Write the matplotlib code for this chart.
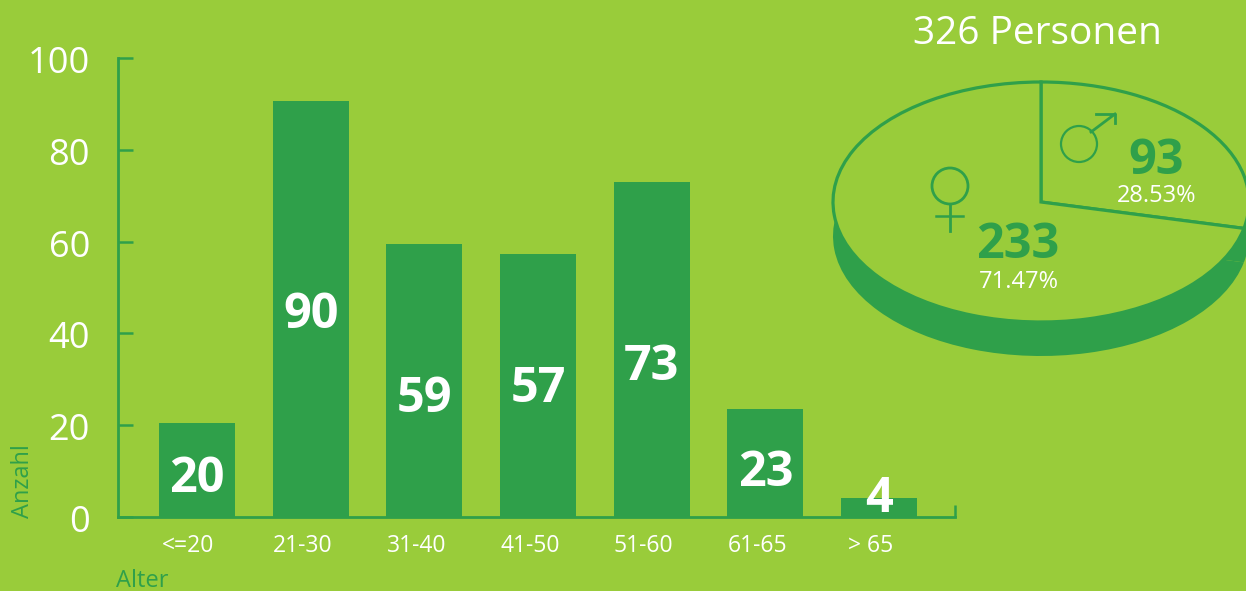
import matplotlib
matplotlib.use("Agg")
import matplotlib.pyplot as plt
from matplotlib.patches import Circle

W, H = 1246, 591
BG = "#99CC3A"
GREEN = "#2FA04A"

age_groups = ["<=20", "21-30", "31-40", "41-50", "51-60", "61-65", "> 65"]
counts = [20, 90, 59, 57, 73, 23, 4]
bar_heights = [20.5, 90.6, 59.5, 57.3, 73.0, 23.5, 4.1]
y_ticks = [0, 20, 40, 60, 80, 100]
gender_counts = [93, 233]  # clockwise from the top: men, women
gender_shares = ["28.53%", "71.47%"]
total_label = "326 Personen"

# layout only: pixel height of each bar's number
label_px = [479, 316, 400, 390, 368, 473, 499]

plt.rcParams["font.family"] = ["Open Sans", "DejaVu Sans"]
fig = plt.figure(figsize=(W / 100, H / 100), dpi=100, facecolor=BG)


def px_axes(l, t, r, b):
    return fig.add_axes([l / W, 1 - b / H, (r - l) / W, (b - t) / H])


# bar chart
ax = px_axes(118, 58, 955, 517)
ax.set_facecolor("none")
ax.bar(range(len(bar_heights)), bar_heights, width=0.668, color=GREEN, zorder=3)
ax.set_xlim(-0.695, 6.668)
ax.set_ylim(0, 100)
for s in ("top", "right"):
    ax.spines[s].set_visible(False)
for s in ("left", "bottom"):
    ax.spines[s].set_color(GREEN)
    ax.spines[s].set_linewidth(2)
ax.set_yticks(y_ticks)
ax.set_yticklabels([])
ax.set_xticks([])
ax.tick_params(axis="y", direction="in", length=11, width=1.8, color=GREEN)

# overlay in pixel coordinates for text and decorations
ov = fig.add_axes([0, 0, 1, 1], zorder=5)
ov.set_xlim(0, W)
ov.set_ylim(H, 0)
ov.axis("off")
ov.patch.set_alpha(0)

for v in y_ticks:
    ypx = 517 - v * 4.59
    ov.text(90, ypx + 6, str(v), ha="right", va="center", fontsize=26, color="white")
for i, name in enumerate(age_groups):
    xc = 197 + i * 113.67
    ov.text(xc - 9 if i == 0 else xc - 8, 546, name, ha="center", va="center",
            fontsize=16.5, color="white")
    ov.text(xc, label_px[i], str(counts[i]), ha="center", va="center", fontsize=35,
            fontweight="bold", color="white")

ov.plot([955, 955], [505, 517], color=GREEN, lw=1.8, solid_capstyle="butt")
ov.text(23, 481, "Anzahl", rotation=90, ha="center", va="center", fontsize=17, color=GREEN)
ov.text(116, 581, "Alter", ha="left", va="center", fontsize=17, color=GREEN)
ov.text(1037, 34, total_label, ha="center", va="center", fontsize=28, color="white")

# pie
pie_ax = px_axes(833, 82, 1249, 322)
pie_ax.set_facecolor("none")
depth = 34 / 120
pie_ax.pie(gender_counts, startangle=90, counterclock=False, radius=1, center=(0, -depth),
           colors=[GREEN, GREEN], wedgeprops=dict(linewidth=0, clip_on=False))
pie_ax.pie(gender_counts, startangle=90, counterclock=False, radius=1, center=(0, 0),
           colors=[BG, BG], wedgeprops=dict(linewidth=2.3, edgecolor=GREEN, clip_on=False))
pie_ax.set_aspect("auto")
pie_ax.set_xlim(-1, 1)
pie_ax.set_ylim(-1, 1)

ov.text(1018, 246, str(gender_counts[1]), ha="center", va="center", fontsize=35,
        fontweight="bold", color=GREEN)
ov.text(1156, 162, str(gender_counts[0]), ha="center", va="center", fontsize=35,
        fontweight="bold", color=GREEN)
ov.text(1019, 282, gender_shares[1], ha="center", va="center", fontsize=17, color="white")
ov.text(1157, 196, gender_shares[0], ha="center", va="center", fontsize=17, color="white")

# gender symbols
ov.add_patch(Circle((950, 186), 18, fill=False, ec=GREEN, lw=2))
ov.plot([950, 950], [204, 231], color=GREEN, lw=2)
ov.plot([936, 963], [216, 216], color=GREEN, lw=1.8)
ov.add_patch(Circle((1079, 144), 18, fill=False, ec=GREEN, lw=1.6))
ov.plot([1091, 1115], [132, 114], color=GREEN, lw=2)
ov.plot([1096, 1115, 1115], [114, 114, 123], color=GREEN, lw=2)

fig.savefig("out.png", dpi=100, facecolor=BG)
